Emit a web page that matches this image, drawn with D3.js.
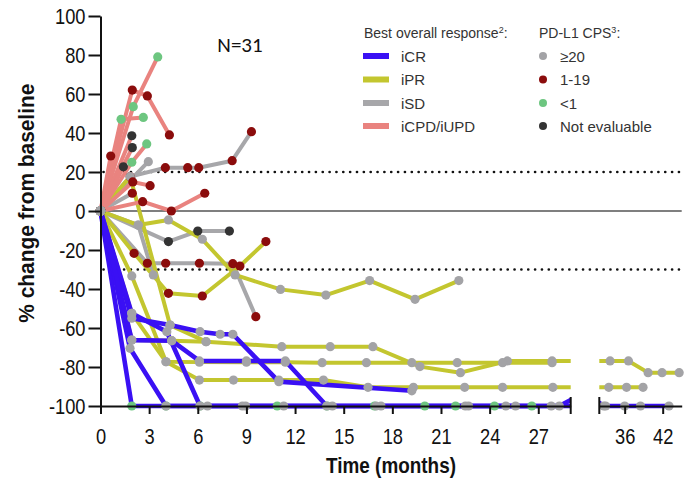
<!DOCTYPE html>
<html>
<head>
<meta charset="utf-8">
<script src="https://cdn.jsdelivr.net/npm/d3@7/dist/d3.min.js"></script>
<style>
  body { margin: 0; background: #fff; }
  svg { display: block; }
</style>
</head>
<body>
<svg id="chart" width="687" height="481"></svg>
<script>
// ---- categories & encodings ----
const responseTypes  = ["iCR", "iPR", "iSD", "iCPD/iUPD"];
const responseColors = ["#3a10f4", "#c3c62f", "#a7a7aa", "#e9837f"];
const cpsGroups      = ["≥20", "1-19", "<1", "Not evaluable"];
const cpsColors      = ["#a3a3a6", "#8b0c0c", "#6dc680", "#333333"];

// ---- axis ticks ----
const yTicks      = [-100, -80, -60, -40, -20, 0, 20, 40, 60, 80, 100];
const xTicksEarly = [0, 3, 6, 9, 12, 15, 18, 21, 24, 27];
const xTicksLate  = [36, 42];
const refLines    = [20, -30];

// ---- per-patient series ----
const patientResponse = [
  "iCPD/iUPD","iCPD/iUPD","iCPD/iUPD","iCPD/iUPD","iCPD/iUPD",
  "iCPD/iUPD","iCPD/iUPD","iCPD/iUPD","iCPD/iUPD","iCPD/iUPD",
  "iSD","iSD","iSD","iSD","iSD","iSD",
  "iPR","iPR","iPR","iPR","iPR","iPR",
  "iCR","iCR","iCR","iCR","iCR"
];
const patientCps = [
  "1-19","<1","<1","<1","Not evaluable",
  "Not evaluable","1-19","Not evaluable","1-19","1-19",
  "1-19","≥20","Not evaluable","1-19","≥20","1-19",
  "≥20","≥20","≥20","≥20","1-19","≥20",
  "<1","≥20","≥20","≥20","≥20"
];
const patientMonths = [
  [0, 1.96, 2.89, 4.25],
  [0, 2.02, 3.53],
  [0, 1.27, 2.64],
  [0, 1.93, 2.85],
  [0, 1.93],
  [0, 1.96],
  [0, 0.63],
  [0, 1.41],
  [0, 2.6, 4.37, 6.43],
  [0, 1.99, 3.06],
  [0, 1.83, 4.0, 5.38, 6.06, 8.12, 9.31],
  [0, 2.95],
  [0, 4.19, 6.0, 7.95],
  [0, 2.89, 4.02, 6.1, 8.16, 9.58],
  [0, 2.33, 3.26],
  [0, 1.96],
  [0, 1.83, 4.29, 6.51, 11.18, 14.17, 16.8, 19.7, 22.2, 25.1, 27.85, 33.7, 36.6, 39.7, 41.9, 44.6],
  [0, 1.93, 4.04, 6.1, 9.0, 11.4, 13.67, 16.4, 19.2, 22.0, 24.8, 27.85],
  [0, 1.93, 4.04, 6.1, 8.2, 11.0, 13.75, 16.5, 19.3, 22.46, 24.8, 27.9, 33.5, 36.3, 38.9],
  [0, 2.33, 4.19, 6.28, 8.3, 11.1, 13.9, 16.6, 19.4, 22.1],
  [0, 2.07, 4.19, 6.28, 8.6, 10.2],
  [0, 1.93, 4.39, 6.51],
  [0, 1.93, 4.04, 6.14, 10.9, 13.96, 16.9, 20.0, 21.9, 24.3, 26.6],
  [0, 1.82, 4.04, 6.6, 8.75, 11.3, 17.3, 22.5, 25.0, 27.8, 33.0, 36.0, 38.5, 43.0],
  [0, 1.93, 4.09, 6.14, 8.95, 14.3, 17.0, 22.7, 25.6, 28.3, 30.5, 32.7],
  [0, 1.93, 4.29, 6.14, 7.38, 8.16, 11.0, 19.2],
  [0, 1.93, 4.39, 6.1, 9.0, 11.4, 13.96]
];
const patientChange = [
  [0, 62, 59, 39],
  [0, 53.5, 79],
  [0, 47, 48],
  [0, 25, 34.4],
  [0, 38.6],
  [0, 32.5],
  [0, 28.2],
  [0, 22.7],
  [0, 4.8, 0, 9.1],
  [0, 14.9, 13],
  [0, 17.6, 22.2, 22.2, 22.2, 25.8, 40.7],
  [0, 25.3],
  [0, -15.7, -10.3, -10.3],
  [0, -26.8, -26.8, -26.8, -27, -54.2],
  [0, -7.2, -32.8],
  [0, 9.1],
  [0, 17.6, -58.5, -67, -69.6, -69.6, -69.6, -79.8, -82.9, -76.9, -76.9, -76.9, -76.9, -82.9, -82.9, -82.9],
  [0, -33.3, -77.3, -77.5, -77.5, -77.5, -77.8, -77.8, -77.8, -77.8, -77.8, -77.8],
  [0, -52.5, -77.3, -86.7, -86.7, -86.7, -86.7, -90.4, -90.4, -90.4, -90.4, -90.4, -90.4, -90.4, -90.4],
  [0, -7.2, -4.6, -14.5, -32.8, -40.2, -43.1, -35.7, -45.3, -35.7],
  [0, -21.7, -42.2, -43.6, -28.2, -15.7],
  [0, -66.2, -66.5, -67],
  [0, -100, -100, -100, -100, -100, -100, -100, -100, -100, -100],
  [0, -70.4, -100, -100, -100, -100, -100, -100, -100, -100, -100, -100, -100, -100],
  [0, -52.5, -61.9, -100, -100, -100, -100, -100, -100, -100, -93, -100],
  [0, -55, -58.5, -61.9, -63.2, -63.2, -87.5, -92.2],
  [0, -66.2, -66.5, -76.9, -76.9, -76.9, -100]
];

// ---- scales (broken time axis: 0–29 and 32–45 months) ----
const breakStart = 29, breakEnd = 32, xMax = 45;
const x = d3.scaleLinear().domain([0, breakStart, breakEnd, xMax]).range([100.5, 570.7, 599.3, 681.7]);
const xEarly = d3.scaleLinear().domain([0, breakStart]).range([x(0), x(breakStart)]);
const xLate  = d3.scaleLinear().domain([breakEnd, xMax]).range([x(breakEnd), x(xMax)]);
const y = d3.scaleLinear().domain([-100, 100]).range([406, 16]);

const respColor = d3.scaleOrdinal(responseTypes, responseColors);
const cpsColor  = d3.scaleOrdinal(cpsGroups, cpsColors);

const svg = d3.select("#chart");
const axisFont = '"Liberation Sans", Arial, sans-serif';
const narrow = 0.83;   // horizontal squeeze for the condensed axis lettering

// clip regions on each side of the axis break
const defs = svg.append("defs");
defs.append("clipPath").attr("id", "clipEarly").append("rect")
  .attr("x", 90).attr("y", 0).attr("width", x(breakStart) - 90).attr("height", 481);
defs.append("clipPath").attr("id", "clipLate").append("rect")
  .attr("x", x(breakEnd)).attr("y", 0).attr("width", 687 - x(breakEnd)).attr("height", 481);

// ---- reference lines ----
svg.append("line")
  .attr("x1", x(0)).attr("x2", x(xMax)).attr("y1", y(0)).attr("y2", y(0))
  .attr("stroke", "#555").attr("stroke-width", 1.4);
svg.selectAll(".ref").data(refLines).join("line")
  .attr("class", "ref")
  .attr("x1", x(0) + 3).attr("x2", x(xMax)).attr("y1", d => y(d)).attr("y2", d => y(d))
  .attr("stroke", "#111").attr("stroke-width", 2.6)
  .attr("stroke-linecap", "round").attr("stroke-dasharray", "0.1 6.75");

// ---- patient lines ----
const patients = patientResponse.map((r, i) => ({
  response: r,
  cps: patientCps[i],
  pts: patientMonths[i].map((t, j) => ({ t, v: patientChange[i][j] }))
}));
const lineOrder = ["iSD", "iPR", "iCR", "iCPD/iUPD"];
const ordered = patients.slice().sort((a, b) => lineOrder.indexOf(a.response) - lineOrder.indexOf(b.response));

const lineGen = d3.line().x(d => x(d.t)).y(d => y(d.v));
["clipEarly", "clipLate"].forEach(id => {
  svg.append("g").attr("clip-path", `url(#${id})`)
    .selectAll("path").data(ordered).join("path")
    .attr("d", d => lineGen(d.pts))
    .attr("fill", "none")
    .attr("stroke", d => respColor(d.response))
    .attr("stroke-width", d => d.response === "iCR" ? 4.6 : 4)
    .attr("stroke-linejoin", "round")
    .attr("stroke-linecap", "round");
});

// ---- dots (baseline dots first, follow-up dots on top) ----
const dotsG = svg.append("g");
const followUps = [];
ordered.forEach(p => p.pts.forEach((d, j) => {
  // points inside the axis break are not shown
  if (j > 0 && !(d.t > breakStart && d.t < breakEnd)) followUps.push({ ...d, cps: p.cps });
}));
dotsG.selectAll("circle.f").data(followUps).join("circle")
  .attr("class", "f")
  .attr("cx", d => x(d.t)).attr("cy", d => y(d.v)).attr("r", 4.6)
  .attr("fill", d => cpsColor(d.cps));
const baselines = ordered.map(p => ({ ...p.pts[0], cps: p.cps }))
  .sort((a, b) => (a.cps === "≥20") - (b.cps === "≥20"));
dotsG.selectAll("circle.b").data(baselines).join("circle")
  .attr("class", "b")
  .attr("cx", d => x(d.t)).attr("cy", d => y(d.v)).attr("r", 4.8)
  .attr("fill", d => cpsColor(d.cps));

// ---- axes ----
const fmt = d => String(d);
const yAxis = svg.append("g").attr("transform", `translate(${x(0)},0)`)
  .call(d3.axisLeft(y).tickValues(yTicks).tickFormat(fmt).tickSize(12).tickSizeOuter(0).tickPadding(3));
const xAxisA = svg.append("g").attr("transform", `translate(0,${y(-100)})`)
  .call(d3.axisBottom(xEarly).tickValues(xTicksEarly).tickFormat(fmt).tickSize(8).tickSizeOuter(0).tickPadding(14));
const xAxisB = svg.append("g").attr("transform", `translate(0,${y(-100)})`)
  .call(d3.axisBottom(xLate).tickValues(xTicksLate).tickFormat(fmt).tickSize(8).tickSizeOuter(0).tickPadding(14));
[yAxis, xAxisA, xAxisB].forEach(g => {
  g.select(".domain").attr("stroke", "#111").attr("stroke-width", 2);
  g.selectAll(".tick line").attr("stroke", "#111").attr("stroke-width", 2);
  g.selectAll(".tick text").attr("fill", "#111").attr("font-size", 22)
    .attr("font-family", axisFont)
    .attr("x", function () { return (+d3.select(this).attr("x") || 0) / narrow; })
    .attr("transform", `scale(${narrow},1)`);
});
// break marks at the ends of each axis segment
svg.selectAll(".brk").data([breakStart, breakEnd]).join("line")
  .attr("class", "brk")
  .attr("x1", d => x(d)).attr("x2", d => x(d))
  .attr("y1", y(-100) - 9).attr("y2", y(-100) + 8)
  .attr("stroke", "#111").attr("stroke-width", 2);

// ---- axis titles ----
svg.append("text")
  .attr("transform", `translate(34,${y(4)}) rotate(-90) scale(0.95,1)`)
  .attr("text-anchor", "middle")
  .attr("font-family", axisFont).attr("font-weight", "bold").attr("font-size", 22)
  .attr("fill", "#111")
  .text("% change from baseline");
svg.append("text")
  .attr("transform", `translate(391,473) scale(0.86,1)`)
  .attr("text-anchor", "middle")
  .attr("font-family", axisFont).attr("font-weight", "bold").attr("font-size", 22)
  .attr("fill", "#111")
  .text("Time (months)");

svg.append("text")
  .attr("x", 240).attr("y", 52).attr("text-anchor", "middle")
  .attr("font-family", "Carlito, 'Liberation Sans', sans-serif").attr("font-size", 21)
  .attr("fill", "#111")
  .text("N=31");

// ---- legends ----
const legFont = "'Liberation Sans', Arial, sans-serif";
const legRowY = [56, 79.5, 103, 126];
const respHead = svg.append("text").attr("x", 364).attr("y", 38)
  .attr("font-family", legFont).attr("font-size", 14).attr("fill", "#333");
respHead.append("tspan").text("Best overall response");
respHead.append("tspan").attr("font-size", 9).attr("dy", -5).text("2");
respHead.append("tspan").attr("dy", 5).text(":");

const respLeg = svg.append("g").selectAll("g").data(responseTypes).join("g")
  .attr("transform", (d, i) => `translate(0,${legRowY[i]})`);
respLeg.append("line").attr("x1", 363).attr("x2", 389).attr("y1", 0).attr("y2", 0)
  .attr("stroke", d => respColor(d)).attr("stroke-width", 6);
respLeg.append("text").attr("x", 401).attr("y", 5.5)
  .attr("font-family", legFont).attr("font-size", 15).attr("fill", "#333")
  .text(d => d);

const cpsHead = svg.append("text").attr("x", 539).attr("y", 38)
  .attr("font-family", legFont).attr("font-size", 14).attr("fill", "#333");
cpsHead.append("tspan").text("PD-L1 CPS");
cpsHead.append("tspan").attr("font-size", 9).attr("dy", -5).text("3");
cpsHead.append("tspan").attr("dy", 5).text(":");

const cpsLeg = svg.append("g").selectAll("g").data(cpsGroups).join("g")
  .attr("transform", (d, i) => `translate(0,${legRowY[i]})`);
cpsLeg.append("circle").attr("cx", 543).attr("cy", 0).attr("r", 4)
  .attr("fill", d => cpsColor(d));
cpsLeg.append("text").attr("x", 560).attr("y", 5.5)
  .attr("font-family", legFont).attr("font-size", 15).attr("fill", "#333")
  .text(d => d);
</script>
</body>
</html>
